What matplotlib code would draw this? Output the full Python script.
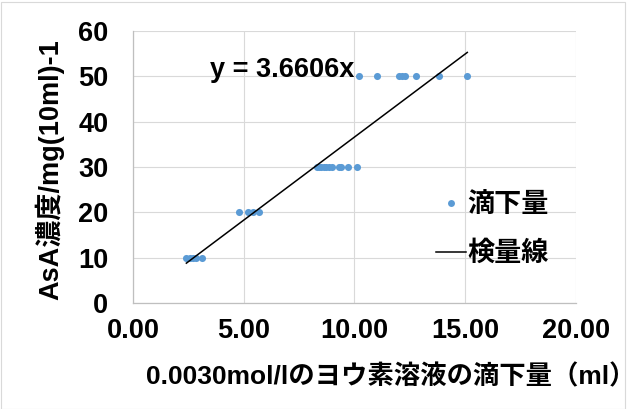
import matplotlib.pyplot as plt
import numpy as np
from matplotlib.patches import Rectangle
from matplotlib.lines import Line2D

plt.rcParams['font.family'] = ['Liberation Sans', 'Noto Sans CJK JP']
plt.rcParams['font.weight'] = 'bold'

# 滴下量 (ml) と AsA 濃度
vol_10 = [2.4, 2.55, 2.7, 2.85, 3.1]
vol_20 = [4.8, 5.2, 5.4, 5.7]
vol_30 = [8.3, 8.4, 8.5, 8.6, 8.7, 8.85, 9.0, 9.3, 9.4, 9.7, 10.1]
vol_50 = [10.2, 11.0, 12.0, 12.15, 12.3, 12.8, 13.8, 15.1]
conc_levels = [10, 20, 30, 50]
slope = 3.6606

x_ticks = [0, 5, 10, 15, 20]
y_ticks = [0, 10, 20, 30, 40, 50, 60]

xs = np.array(vol_10 + vol_20 + vol_30 + vol_50)
ys = np.array([conc_levels[0]] * len(vol_10) + [conc_levels[1]] * len(vol_20)
              + [conc_levels[2]] * len(vol_30) + [conc_levels[3]] * len(vol_50))

fs = 19.5
fig = plt.figure(figsize=(6.42, 4.09), dpi=100)
ax = fig.add_axes([0.2076, 0.2592, 0.6891, 0.665])

grid_c = '#d9d9d9'
ax.scatter(xs, ys, s=26, color='#5b9bd5', zorder=3, linewidths=0)
xl = np.array([xs.min(), xs.max()])
ax.plot(xl, slope * xl, color='black', lw=1.1, zorder=4)

ax.text(10.0, 51.3, 'y = 3.6606x', ha='right', va='center', fontsize=fs, fontweight='bold')

ax.set_xlim(0, 20)
ax.set_ylim(0, 60)
ax.set_xticks(x_ticks)
ax.set_yticks(y_ticks)
ax.set_xticklabels([f'{v:.2f}' for v in x_ticks])
ax.tick_params(axis='both', length=0, labelsize=fs)
ax.tick_params(axis='y', pad=18)
ax.tick_params(axis='x', pad=11)
ax.grid(True, color=grid_c, lw=0.8)
ax.set_axisbelow(True)
for s in ['top', 'right']:
    ax.spines[s].set_visible(False)
for s in ['left', 'bottom']:
    ax.spines[s].set_color('#bfbfbf')
    ax.spines[s].set_linewidth(0.9)

ax.set_xlabel('0.0030mol/lのヨウ素溶液の滴下量（ml）', fontsize=19, fontweight='bold')
ax.xaxis.set_label_coords(0.582, -0.225)
ax.set_ylabel('AsA濃度/mg(10ml)-1', fontsize=fs, fontweight='bold')
ax.yaxis.set_label_coords(-0.155, 0.49)

handles = [
    Line2D([], [], ls='none', marker='o', ms=5, color='#5b9bd5', mec='none'),
    Line2D([], [], color='black', lw=1.1),
]
ax.legend(handles, ['滴下量', '検量線'], loc='center left', bbox_to_anchor=(0.66, 0.27),
          frameon=False, fontsize=fs, handlelength=1.1, handletextpad=0.05,
          labelspacing=0.85, borderaxespad=0)

# 外枠
fig.patches.append(Rectangle((0.5 / 642, 0.5 / 409), 624 / 642, 407 / 409,
                             transform=fig.transFigure, fill=False,
                             edgecolor=grid_c, lw=0.8))

fig.savefig('out.png', dpi=100)
